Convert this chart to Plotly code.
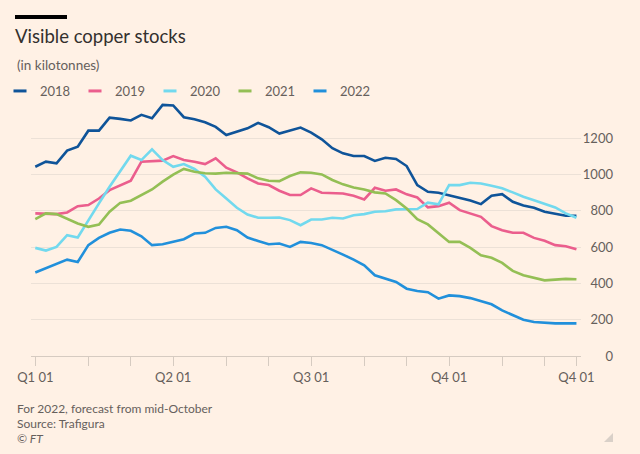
import plotly.graph_objects as go

weeks = list(range(52))

s2018 = [1043, 1071, 1062, 1132, 1154, 1242, 1242, 1314, 1307, 1298, 1329, 1310, 1384, 1381,
         1316, 1305, 1288, 1263, 1218, 1237, 1255, 1285, 1261, 1226, 1244, 1259, 1231, 1194,
         1145, 1117, 1102, 1102, 1075, 1093, 1086, 1047, 942, 905, 900, 887, 872, 857, 837,
         883, 892, 850, 830, 817, 795, 782, 773, 773]
s2019 = [786, 782, 782, 791, 826, 832, 868, 914, 942, 966, 1071, 1075, 1077, 1102, 1080, 1071,
         1058, 1090, 1038, 1012, 979, 951, 942, 911, 887, 887, 924, 900, 900, 896, 883, 863,
         927, 911, 918, 891, 874, 819, 826, 845, 804, 786, 767, 716, 693, 679, 679, 651, 635,
         611, 605, 588]
s2020 = [596, 581, 601, 666, 653, 749, 841, 933, 1019, 1104, 1080, 1139, 1080, 1043, 1058, 1031,
         988, 918, 868, 817, 780, 762, 762, 763, 749, 721, 752, 752, 762, 758, 776, 782, 795,
         798, 808, 810, 810, 845, 836, 942, 942, 955, 951, 938, 924, 902, 878, 859, 841, 819,
         786, 762]
s2021 = [754, 786, 782, 758, 730, 712, 725, 795, 844, 856, 887, 918, 961, 1000, 1031, 1016, 1007,
         1005, 1010, 1007, 1005, 979, 966, 964, 992, 1012, 1010, 1001, 970, 946, 929, 918, 902,
         896, 859, 813, 754, 725, 675, 629, 629, 596, 555, 541, 513, 469, 445, 432, 417, 421,
         425, 423]
s2022 = [460, 485, 509, 531, 518, 611, 651, 679, 697, 690, 660, 611, 616, 631, 644, 675, 679, 706,
         712, 693, 653, 634, 616, 620, 601, 629, 623, 611, 587, 559, 531, 500, 445, 427, 408,
         371, 358, 352, 316, 334, 330, 319, 303, 285, 251, 224, 200, 187, 183, 180, 180, 180]

series_names = ["2018", "2019", "2020", "2021", "2022"]
series_values = [s2018, s2019, s2020, s2021, s2022]
colors = ["#0f5499", "#eb5e8d", "#72d9ee", "#94bf55", "#2190db"]

x_tickvals = [0, 5, 9, 13, 18, 22, 26, 31, 35, 39, 44, 48, 51]
x_ticktext = ["Q1 01", "", "", "Q2 01", "", "", "Q3 01", "", "", "Q4 01", "", "", "Q4 01"]
y_tickvals = [0, 200, 400, 600, 800, 1000, 1200]

FONT = "Lato"
GRAY = "#66605c"
BG = "#fff1e5"

# layout geometry helpers (pixels -> paper)
L, R, T, B = 31, 27, 102, 98
W, H = 640, 454
PW = W - L - R
PH = H - T - B


def px(xp):
    return (xp - L) / PW


def py(yp):
    return (H - B - yp) / PH


fig = go.Figure()
for name, vals, col in zip(series_names, series_values, colors):
    fig.add_trace(go.Scatter(x=weeks, y=vals, mode="lines", name=name,
                             line=dict(color=col, width=2.6), showlegend=False,
                             hoverinfo="skip"))
# legend entries (short line swatches)
for name, col in zip(series_names, colors):
    fig.add_trace(go.Scatter(x=[None], y=[None], mode="markers", name=name,
                             marker=dict(symbol="line-ew-open", size=9.3, color=col,
                                         line=dict(color=col, width=3)),
                             showlegend=True))

fig.update_layout(
    width=W, height=H,
    paper_bgcolor=BG, plot_bgcolor=BG,
    margin=dict(l=L, r=R, t=T, b=B, autoexpand=False),
    font=dict(family=FONT, color=GRAY, size=13),
    title=dict(text="Visible copper stocks", x=15 / W, xanchor="left", xref="container",
               y=1 - 37 / H, yanchor="middle", yref="container",
               font=dict(family=FONT, size=18.5, color="#33302e")),
    legend=dict(orientation="h", x=-19 / W, xanchor="left", xref="container",
                y=1 - 91 / H, yanchor="middle", yref="container",
                font=dict(size=13, color=GRAY), bgcolor="rgba(0,0,0,0)",
                entrywidth=30, entrywidthmode="pixels", itemclick=False),
    xaxis=dict(domain=[0, (581 - L) / PW], range=[-0.405, 51.43],
               tickvals=x_tickvals, ticktext=x_ticktext, ticks="outside", ticklen=9,
               tickcolor="#d6cbc1", tickwidth=1, showline=True, linecolor="#d6cbc1",
               showgrid=False, zeroline=False, tickfont=dict(size=13, color=GRAY)),
    yaxis=dict(range=[0, 1400], tickvals=y_tickvals, anchor="free", position=1.0,
               side="left", showgrid=True, gridcolor="#ece1d7", gridwidth=1,
               zeroline=False, showline=False, ticks="",
               tickfont=dict(size=13, color=GRAY)),
    showlegend=True,
)

fig.add_shape(type="rect", xref="paper", yref="paper", x0=px(15), x1=px(67),
              y0=py(19), y1=py(15), fillcolor="#000000", line=dict(width=0))
# small corner mark at bottom right
fig.add_shape(type="path", xref="paper", yref="paper",
              path=f"M {px(613)},{py(433)} L {px(613)},{py(442)} L {px(604)},{py(442)} Z",
              fillcolor="#d9d0c8", line=dict(width=0))

fig.add_annotation(text="(in kilotonnes)", xref="paper", yref="paper", x=px(15), y=py(65),
                   xanchor="left", yanchor="middle", showarrow=False,
                   font=dict(size=13.5, color=GRAY))
foot = ["For 2022, forecast from mid-October", "Source: Trafigura", "<i>© FT</i>"]
for i, t in enumerate(foot):
    fig.add_annotation(text=t, xref="paper", yref="paper", x=px(15), y=py(408 + 15.5 * i),
                       xanchor="left", yanchor="middle", showarrow=False,
                       font=dict(size=12, color=GRAY))

fig.write_html("out.html",
               config={"displayModeBar": False},
               post_script="document.body.style.margin='0px';"
                           "document.body.style.padding='0px';"
                           "document.body.style.background='#fff1e5';")
